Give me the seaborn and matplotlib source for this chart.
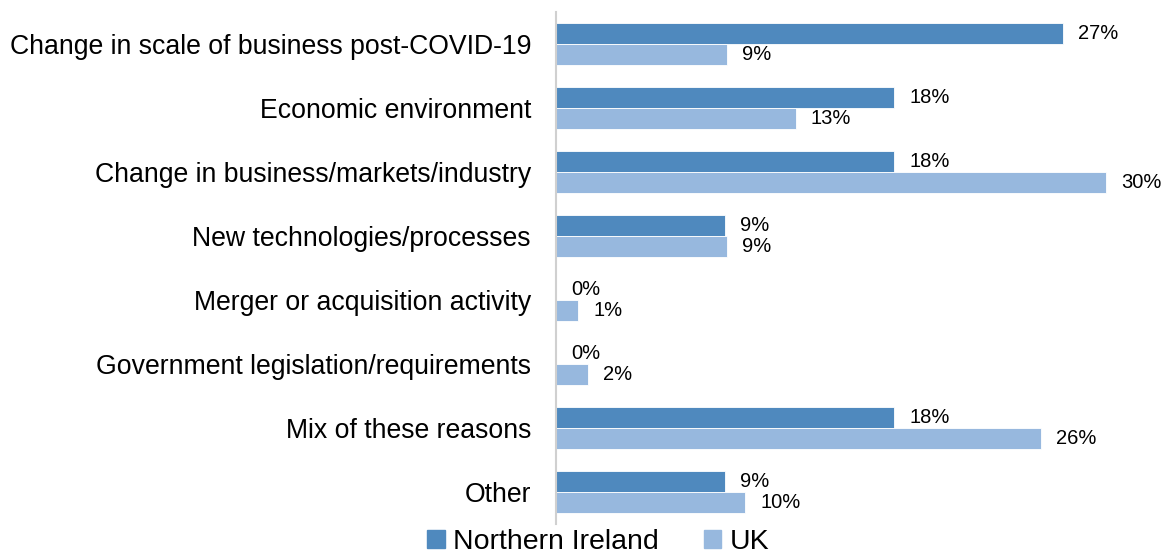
import pandas as pd
import matplotlib
matplotlib.use("Agg")
import matplotlib.pyplot as plt
import seaborn as sns

# --- data ---
reasons = [
    "Change in scale of business post-COVID-19",
    "Economic environment",
    "Change in business/markets/industry",
    "New technologies/processes",
    "Merger or acquisition activity",
    "Government legislation/requirements",
    "Mix of these reasons",
    "Other",
]
ni_values = [27.3, 18.2, 18.2, 9.1, 0.0, 0.0, 18.2, 9.1]
uk_values = [9.2, 12.9, 29.6, 9.2, 1.2, 1.7, 26.1, 10.2]
series = ["Northern Ireland", "UK"]
colors = ["#4F89BE", "#97B8DE"]

df = pd.DataFrame({
    "reason": reasons * 2,
    "value": ni_values + uk_values,
    "region": [series[0]] * len(reasons) + [series[1]] * len(reasons),
})

sns.set_style("white")
plt.rcParams["font.family"] = ["Liberation Sans", "DejaVu Sans"]
plt.rcParams["text.color"] = "#000000"

fig = plt.figure(figsize=(11.69, 5.58), dpi=100)
ax = fig.add_axes([556 / 1169, 1 - 524 / 558, 1 - 556 / 1169, 512 / 558])

sns.barplot(data=df, y="reason", x="value", hue="region", orient="h",
            palette=colors, saturation=1, width=0.66, edgecolor="white",
            linewidth=0.6, ax=ax, legend=False)

for cont in ax.containers:
    ax.bar_label(cont, labels=[f"{b.get_width():.0f}%" for b in cont],
                 padding=11, fontsize=14.5, color="#000000")

ax.set_xlim(0, 33)
ax.set_ylim(len(reasons) - 0.5, -0.5)
ax.set_xlabel("")
ax.set_ylabel("")
ax.set_xticks([])
ax.tick_params(axis="y", length=0, pad=18, labelsize=19.2, labelcolor="#000000")

for side in ["top", "right", "bottom"]:
    ax.spines[side].set_visible(False)
ax.spines["left"].set_color("#D0D0D0")
ax.spines["left"].set_linewidth(1.5)

handles = [plt.Rectangle((0, 0), 1, 1, color=c) for c in colors]
fig.legend(handles, series, loc="center", bbox_to_anchor=(0.512, 0.028),
           ncol=2, frameon=False, fontsize=20.5, handlelength=0.6,
           handleheight=0.6, handletextpad=0.3, columnspacing=1.6,
           borderaxespad=0, borderpad=0, labelcolor="#000000")

fig.savefig("out.png", dpi=100)
